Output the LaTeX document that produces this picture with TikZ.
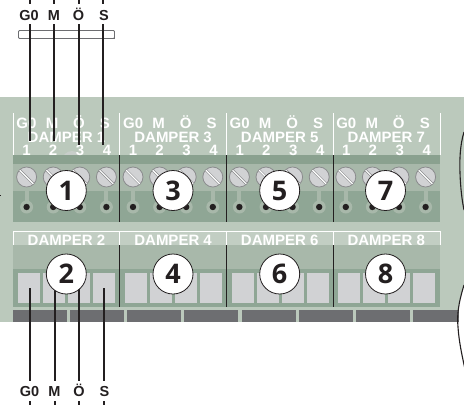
\documentclass[tikz,border=0pt]{standalone}
\usepackage{fontspec}
\setmainfont{Liberation Sans}
\newfontfamily\numfont{Open Sans}
\definecolor{boardgreen}{HTML}{BBC9BC}
\definecolor{midgreen}{HTML}{A8B8AA}
\definecolor{darkgreen}{HTML}{8FA695}
\definecolor{stripgreen}{HTML}{8AA18F}
\definecolor{slotgrey}{HTML}{D1D2D4}
\definecolor{bargrey}{HTML}{6D6E71}
\definecolor{inkblack}{HTML}{231F20}
\tikzset{
  wire/.style={inkblack, line width=1.7pt},
  wirelabel/.style={text=inkblack, inner sep=0pt, anchor=base, font=\fontsize{14.5}{15}\selectfont\bfseries},
  printlabel/.style={text=white, inner sep=0pt, anchor=base, font=\fontsize{15}{15}\selectfont\bfseries},
  numdisc/.style={circle, draw=inkblack, fill=white, line width=0.8pt, minimum size=40pt, inner sep=0pt, text=inkblack, font=\fontsize{27}{27}\selectfont\numfont\bfseries},
  screwhead/.style={draw=bargrey!80!white, fill=slotgrey, line width=0.8pt},
  screwslot/.style={draw=bargrey!80!white, double=white, double distance=1.2pt, line width=0.6pt},
}
\begin{document}
\begin{tikzpicture}[x=1pt, y=-1pt]
    \useasboundingbox (0, 0) rectangle (464, 405);

    % board and bars
    \fill[boardgreen] (0, 97) rectangle (464, 322);
    \fill[white] (464, 285) .. controls (458, 305) and (457, 315) .. (458, 327) -- (464, 327) -- cycle;
    \fill[slotgrey!60!boardgreen] (72, 161) circle (10);
    \foreach \x/\xend in {13/67, 70/124, 127/181, 184/238, 242/296, 299/353, 356/410, 413/459}
        \fill[bargrey] (\x, 310) rectangle (\xend, 322);

    %%%%%%%%%%%%%%%%%%%%%%%%%%%%%%%%%%%%%%%%%%%%%%%%%%%%%%

    % upper terminal block
    \fill[stripgreen] (13, 155) rectangle (440, 164);
    \fill[midgreen] (13, 164) rectangle (440, 191);
    \fill[darkgreen] (13, 191) rectangle (440, 222);
    \foreach \n in {0, ..., 15} {
        \pgfmathsetmacro{\cx}{26.6 + 26.6*\n}
        \fill[midgreen] (\cx - 2, 185) rectangle (\cx + 2, 205);
        \fill[midgreen] (\cx, 207) circle (6.5);
        \fill[inkblack] (\cx, 207) circle (3.2);
        \draw[screwhead] (\cx, 177) circle (10);
        \draw[screwslot] (\cx - 6.8, 170.2) -- (\cx + 6.8, 183.8);
    }

    % lower terminal block
    \draw[white, line width=1pt, fill=boardgreen!90!white] (13, 245) -- (13, 231) -- (440, 231) -- (440, 245);
    \fill[midgreen] (13, 245) rectangle (440, 269);
    \fill[darkgreen] (13, 269) rectangle (440, 307);
    \foreach \x in {18, 43, 68, 93, 125, 150, 175, 200, 232, 257, 282, 307, 338, 363, 388, 413}
        \fill[slotgrey] (\x, 273) rectangle (\x + 22, 303);

    % separators
    \foreach \x in {13, 119.5, 226, 333, 440}
        \draw[white, line width=1pt] (\x, 113) -- (\x, 155);
    \foreach \x in {119.5, 226, 333} {
        \draw[inkblack, line width=0.8pt] (\x, 155) -- (\x, 222);
        \draw[inkblack, line width=0.8pt] (\x, 245) -- (\x, 307);
        \draw[white, line width=1pt] (\x, 231) -- (\x, 245);
    }

    %%%%%%%%%%%%%%%%%%%%%%%%%%%%%%%%%%%%%%%%%%%%%%%%%%%%%%

    % printed labels
    \foreach \k/\d/\b in {0/1/2, 1/3/4, 2/5/6, 3/7/8} {
        \pgfmathsetmacro{\ox}{106.6*\k}
        \node[printlabel] (sigG\d) at (\ox + 26.5, 128) {G0};
        \node[printlabel] (sigM\d) at (\ox + 52, 128) {M};
        \node[printlabel] (sigO\d) at (\ox + 79, 128) {Ö};
        \node[printlabel] (sigS\d) at (\ox + 105, 128) {S};
        \node[printlabel] (damper\d) at (\ox + 66.5, 142) {DAMPER \d};
        \node[printlabel] (damper\b) at (\ox + 66.5, 245.5) {DAMPER \b};
        \node[printlabel] (pinA\d) at (\ox + 26.5, 155) {1};
        \node[printlabel] (pinB\d) at (\ox + 53, 155) {2};
        \node[printlabel] (pinC\d) at (\ox + 80, 155) {3};
        \node[printlabel] (pinD\d) at (\ox + 107, 155) {4};
    }

    %%%%%%%%%%%%%%%%%%%%%%%%%%%%%%%%%%%%%%%%%%%%%%%%%%%%%%

    % strain relief and wires above
    \draw[draw=bargrey, fill=white, line width=0.8pt, rounded corners=1pt] (18.5, 30.5) rectangle (114.5, 38.5);
    \draw[bargrey, line width=1.4pt] (18.5, 38.5) -- (114.5, 38.5);

    \node[wirelabel] (topG) at (29, 20) {G0};
    \node[wirelabel] (topM) at (54, 20) {M};
    \node[wirelabel] (topO) at (78.5, 20) {Ö};
    \node[wirelabel] (topS) at (104, 20) {S};

    \foreach \nm/\x/\yend in {G/30/141, M/54/141, O/79/145, S/103/145} {
        \coordinate (top\nm in) at (\x, 0);
        \coordinate (top\nm stub) at (\x, 3.5);
        \coordinate (top\nm out) at (\x, 24);
        \coordinate (top\nm end) at (\x, \yend);
        \draw[wire] (top\nm in) -- (top\nm stub);
        \draw[wire] (top\nm out) -- (top\nm end);
    }

    % wires below
    \node[wirelabel] (botG) at (29.5, 396.5) {G0};
    \node[wirelabel] (botM) at (54.5, 396.5) {M};
    \node[wirelabel] (botO) at (79, 396.5) {Ö};
    \node[wirelabel] (botS) at (104.5, 396.5) {S};

    \foreach \nm/\x in {G/30, M/55, O/79, S/104} {
        \coordinate (slot\nm) at (\x, 288);
        \coordinate (leg\nm) at (\x, 381);
        \coordinate (stub\nm) at (\x, 401);
        \coordinate (out\nm) at (\x, 405);
        \draw[wire] (slot\nm) -- (leg\nm);
        \draw[wire] (stub\nm) -- (out\nm);
    }

    %%%%%%%%%%%%%%%%%%%%%%%%%%%%%%%%%%%%%%%%%%%%%%%%%%%%%%

    % numbered discs
    \node[numdisc] (disc1) at (66.3, 190.5) {1};
    \node[numdisc] (disc3) at (173, 190.5) {3};
    \node[numdisc] (disc5) at (279.7, 190.5) {5};
    \node[numdisc] (disc7) at (385.5, 190.5) {7};
    \node[numdisc] (disc2) at (66.3, 274) {2};
    \node[numdisc] (disc4) at (173, 274) {4};
    \node[numdisc] (disc6) at (279.7, 274) {6};
    \node[numdisc] (disc8) at (385.5, 274) {8};

    %%%%%%%%%%%%%%%%%%%%%%%%%%%%%%%%%%%%%%%%%%%%%%%%%%%%%%

    % break lines on the right
    \draw[inkblack, line width=1.1pt] (464, 132) .. controls (460, 145) and (459.5, 160) .. (460, 173) .. controls (460.5, 188) and (462, 200) .. (464, 210);
    \draw[inkblack, line width=1.1pt] (464, 285) .. controls (458, 305) and (457, 315) .. (458, 327) .. controls (459, 342) and (462, 355) .. (464.5, 367);
    \draw[inkblack, line width=0.6pt] (0, 195) -- (1, 195);
\end{tikzpicture}
\end{document}
